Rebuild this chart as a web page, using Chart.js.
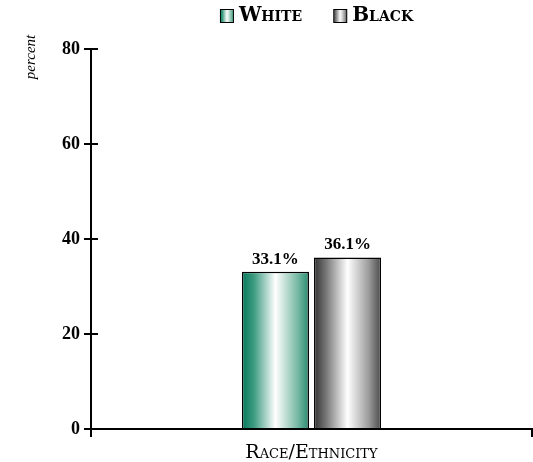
<!DOCTYPE html>
<html>
<head>
<meta charset="utf-8">
<script src="https://cdn.jsdelivr.net/npm/chart.js@4.4.1/dist/chart.umd.min.js"></script>
<style>
html, body { margin: 0; padding: 0; background: #fff; }
#wrap { width: 533px; height: 462px; }
</style>
</head>
<body>
<div id="wrap"><canvas id="myChart"></canvas></div>
<script>
// data
var categories = [''];
var seriesNames = ['White', 'Black'];
var whiteValues = [33.1];
var blackValues = [36.1];
var yTicks = [0, 20, 40, 60, 80];
var xTitle = 'Race/Ethnicity';
var yTitle = 'percent';

var serif = "'Liberation Serif', 'DejaVu Serif', serif";
var wideSerif = "'DejaVu Serif', serif";

var greenStops = [[0, '#04785c'], [0.18, '#3d9c80'], [0.5, '#ffffff'], [0.82, '#7cbba7'], [1, '#2a8d70']];
var blackStops = [[0, '#333333'], [0.18, '#777777'], [0.5, '#ffffff'], [0.82, '#9a9a9a'], [1, '#4a4a4a']];

function makeGradient(c, x0, x1, stops) {
    var g = c.createLinearGradient(x0, 0, x1, 0);
    stops.forEach(function (s) { g.addColorStop(s[0], s[1]); });
    return g;
}

function barFill(stops, fallback) {
    return function (context) {
        var el = context.element;
        if (!el || el.x === undefined || !el.width) return fallback;
        return makeGradient(context.chart.ctx, el.x - el.width / 2, el.x + el.width / 2, stops);
    };
}

function legendSwatch(stops) {
    var cv = document.createElement('canvas');
    cv.width = 16;
    cv.height = 16;
    var c = cv.getContext('2d');
    c.fillStyle = makeGradient(c, 1, 15, stops);
    c.fillRect(1, 1, 14, 14);
    c.strokeStyle = '#000';
    c.lineWidth = 1;
    c.strokeRect(1.5, 1.5, 13, 13);
    return cv;
}

var swatches = [legendSwatch(greenStops), legendSwatch(blackStops)];

// move legend so it is centred over the plot and sits near the top edge
var legendShift = {
    id: 'legendShift',
    afterLayout: function (chart) {
        var dx = 53, dy = -13;
        chart.legend.left += dx;
        chart.legend.right += dx;
        chart.legend.top += dy;
        chart.legend.bottom += dy;
    }
};

// bar value labels, inner tick halves and the y title
var extras = {
    id: 'extras',
    afterDatasetsDraw: function (chart) {
        var c = chart.ctx;
        c.save();
        c.fillStyle = '#000';
        c.font = 'bold 17px ' + serif;
        c.textAlign = 'center';
        c.textBaseline = 'bottom';
        chart.data.datasets.forEach(function (ds, i) {
            chart.getDatasetMeta(i).data.forEach(function (el, j) {
                c.fillText(ds.data[j].toFixed(1) + '%', el.x, el.y - 4);
            });
        });

        var y = chart.scales.y;
        c.strokeStyle = '#000';
        c.lineWidth = 2;
        yTicks.forEach(function (t) {
            var py = y.getPixelForValue(t);
            c.beginPath();
            c.moveTo(y.right, py);
            c.lineTo(y.right + 7, py);
            c.stroke();
        });

        c.translate(31, 57);
        c.rotate(-Math.PI / 2);
        c.font = 'italic 15px ' + serif;
        c.textBaseline = 'middle';
        c.fillText(yTitle, 0, 0);
        c.restore();
    }
};

var ctx = document.getElementById('myChart');
var chart = new Chart(ctx, {
    type: 'bar',
    data: {
        labels: categories,
        datasets: [
            {
                label: seriesNames[0],
                data: whiteValues,
                backgroundColor: barFill(greenStops, '#3d9c80'),
                borderColor: '#000',
                borderWidth: 1.5
            },
            {
                label: seriesNames[1],
                data: blackValues,
                backgroundColor: barFill(blackStops, '#888888'),
                borderColor: '#000',
                borderWidth: 1.5
            }
        ]
    },
    options: {
        responsive: true,
        maintainAspectRatio: false,
        animation: false,
        categoryPercentage: 0.327,
        barPercentage: 0.93,
        layout: { padding: { top: -17, right: 1, left: 0, bottom: 0 } },
        plugins: {
            tooltip: { enabled: false },
            legend: {
                position: 'top',
                labels: {
                    usePointStyle: true,
                    boxWidth: 4,
                    boxHeight: 14,
                    padding: 36,
                    color: '#000',
                    font: { family: wideSerif, size: 20, weight: 'small-caps bold' },
                    generateLabels: function (chart) {
                        return chart.data.datasets.map(function (ds, i) {
                            return {
                                text: ds.label,
                                pointStyle: swatches[i],
                                fillStyle: '#fff',
                                strokeStyle: '#000',
                                lineWidth: 0,
                                hidden: false,
                                datasetIndex: i,
                                fontColor: '#000'
                            };
                        });
                    }
                }
            }
        },
        scales: {
            x: {
                afterFit: function (s) { s.height = 33; },
                grid: {
                    display: true,
                    drawOnChartArea: false,
                    drawTicks: true,
                    tickLength: 8,
                    color: '#000',
                    lineWidth: 2
                },
                border: { display: true, color: '#000', width: 2 },
                ticks: { display: false },
                title: {
                    display: true,
                    text: xTitle,
                    color: '#000',
                    padding: { top: 7, bottom: -2 },
                    font: { family: wideSerif, size: 19, weight: 'small-caps' }
                }
            },
            y: {
                min: 0,
                max: 80,
                afterFit: function (s) { s.width = 91; },
                afterBuildTicks: function (s) {
                    s.ticks = yTicks.map(function (v) { return { value: v }; });
                },
                grid: {
                    display: true,
                    drawOnChartArea: false,
                    drawTicks: true,
                    tickLength: 7,
                    color: '#000',
                    lineWidth: 2
                },
                border: { display: true, color: '#000', width: 2 },
                ticks: {
                    color: '#000',
                    padding: 4,
                    font: { family: serif, size: 18, weight: 'bold' }
                }
            }
        }
    },
    plugins: [legendShift, extras]
});
chart.update();
</script>
</body>
</html>
